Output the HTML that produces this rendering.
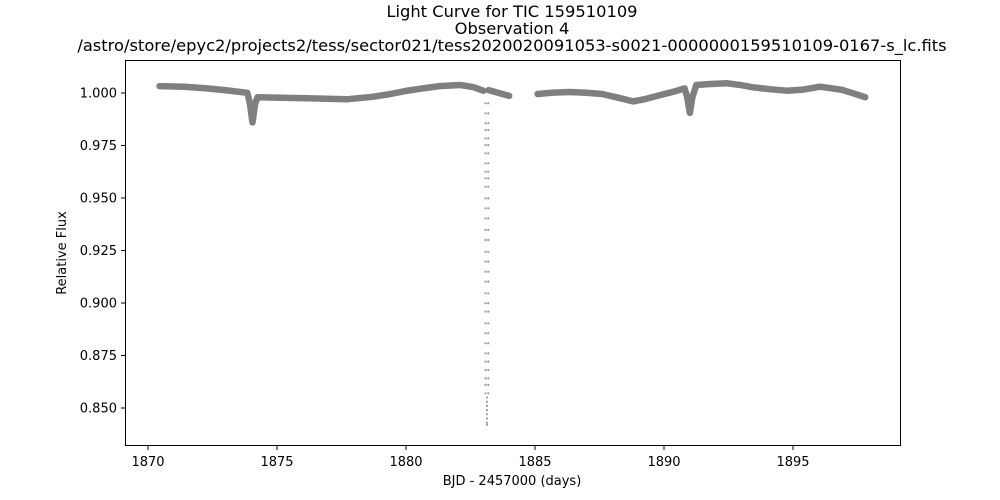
<!DOCTYPE html>
<html><head><meta charset="utf-8"><style>
html,body{margin:0;padding:0;background:#fff;}
svg{display:block;font-family:"DejaVu Sans","Liberation Sans",sans-serif;}
</style></head><body>
<svg id="chart" width="1000" height="500">
<rect width="1000" height="500" fill="#fff"/>
<g font-size="16.3" text-anchor="middle" fill="#000">
<text x="512" y="17">Light Curve for TIC 159510109</text>
<text x="512" y="34">Observation 4</text>
<text x="512" y="51">/astro/store/epyc2/projects2/tess/sector021/tess2020020091053-s0021-0000000159510109-0167-s_lc.fits</text>
</g>
<g id="marks"></g>
<g id="deep"></g>
<rect x="125.5" y="60.5" width="775" height="385" fill="none" stroke="#000" stroke-width="1"/>
<g id="xaxis" font-size="13" text-anchor="middle"></g>
<g id="yaxis" font-size="13" text-anchor="end"></g>
<text x="512" y="485" font-size="13" text-anchor="middle">BJD - 2457000 (days)</text>
<text transform="translate(66,253) rotate(-90)" font-size="13" text-anchor="middle">Relative Flux</text>
</svg>
<script>
const seg1Times=[1870.45,1871.4,1872.3,1873.1,1873.85,1873.95,1874.05,1874.15,1874.25,1875.2,1876.15,1877.7,1878.7,1879.4,1880.0,1880.7,1881.3,1882.1,1882.6,1883.0];
const seg1Flux=[1.0033,1.003,1.0022,1.0012,1.0001,0.995,0.986,0.995,0.998,0.9977,0.9975,0.997,0.9982,0.9995,1.001,1.0023,1.0033,1.0038,1.0028,1.0011];
const seg2Times=[1883.2,1884.0];
const seg2Flux=[1.0014,0.9986];
const seg3Times=[1885.1,1885.7,1886.35,1887.0,1887.6,1888.2,1888.8,1889.3,1889.85,1890.4,1890.8,1890.9,1891.0,1891.1,1891.25,1891.8,1892.45,1893.0,1893.45,1894.1,1894.75,1895.4,1896.05,1896.9,1897.8];
const seg3Flux=[0.9995,1.0002,1.0005,1.0001,0.9995,0.9978,0.996,0.9972,0.999,1.0007,1.0022,0.998,0.9905,0.998,1.0038,1.0043,1.0046,1.0037,1.0027,1.0018,1.0011,1.0016,1.003,1.0015,0.998];
const eclipseTimes=[1883.08,1883.19];
const eclipseFlux=[0.9951,0.9903,0.9856,0.9824,0.9784,0.9752,0.9713,0.9665,0.9625,0.9594,0.9554,0.9498,0.9451,0.9403,0.9348,0.930,0.9244,0.9197,0.9149,0.9102,0.9046,0.8999,0.8959,0.8903,0.8856,0.8808,0.876,0.8721,0.8681,0.8641,0.861,0.857];
const eclipseBottomTime=1883.14;
const eclipseBottomFlux=[0.855,0.853,0.851,0.849,0.847,0.845,0.843,0.842];
const xTicks=[1870,1875,1880,1885,1890,1895];
const yTicks=[0.850,0.875,0.900,0.925,0.950,0.975,1.000];

const NS='http://www.w3.org/2000/svg';
const xs=t=>148+(t-1870)*25.8;
const ys=f=>93+(1-f)*2100;
const marks=document.getElementById('marks');
[[seg1Times,seg1Flux],[seg2Times,seg2Flux],[seg3Times,seg3Flux]].forEach((s,i)=>{
  const p=document.createElementNS(NS,'polyline');
  p.setAttribute('points',s[0].map((t,j)=>xs(t).toFixed(1)+','+ys(s[1][j]).toFixed(1)).join(' '));
  p.setAttribute('fill','none');p.setAttribute('stroke','#7f7f7f');
  p.setAttribute('stroke-width','6.5');p.setAttribute('stroke-linejoin','round');p.setAttribute('stroke-linecap','round');
  
  
  marks.appendChild(p);
});
const deep=document.getElementById('deep');
function dot(t,f){
  const c=document.createElementNS(NS,'circle');
  c.setAttribute('cx',xs(t).toFixed(1));c.setAttribute('cy',ys(f).toFixed(1));
  c.setAttribute('r','1.1');c.setAttribute('fill','#999');
  
  
  deep.appendChild(c);
}
eclipseTimes.forEach(t=>eclipseFlux.forEach(f=>dot(t,f)));
eclipseBottomFlux.forEach(f=>dot(eclipseBottomTime,f));

const xa=document.getElementById('xaxis');
xTicks.forEach(v=>{
  const x=xs(v);
  const l=document.createElementNS(NS,'line');
  l.setAttribute('x1',x);l.setAttribute('x2',x);l.setAttribute('y1',446);l.setAttribute('y2',450);l.setAttribute('stroke','#000');
  
  
  xa.appendChild(l);
  const tx=document.createElementNS(NS,'text');
  tx.setAttribute('x',x);tx.setAttribute('y',466);tx.textContent=v;
  
  
  xa.appendChild(tx);
});
const ya=document.getElementById('yaxis');
yTicks.forEach(v=>{
  const y=ys(v);
  const l=document.createElementNS(NS,'line');
  l.setAttribute('x1',121);l.setAttribute('x2',125);l.setAttribute('y1',y);l.setAttribute('y2',y);l.setAttribute('stroke','#000');
  
  
  ya.appendChild(l);
  const tx=document.createElementNS(NS,'text');
  tx.setAttribute('x',117);tx.setAttribute('y',y+4.5);tx.textContent=v.toFixed(3);
  
  
  ya.appendChild(tx);
});
</script>
</body></html>
